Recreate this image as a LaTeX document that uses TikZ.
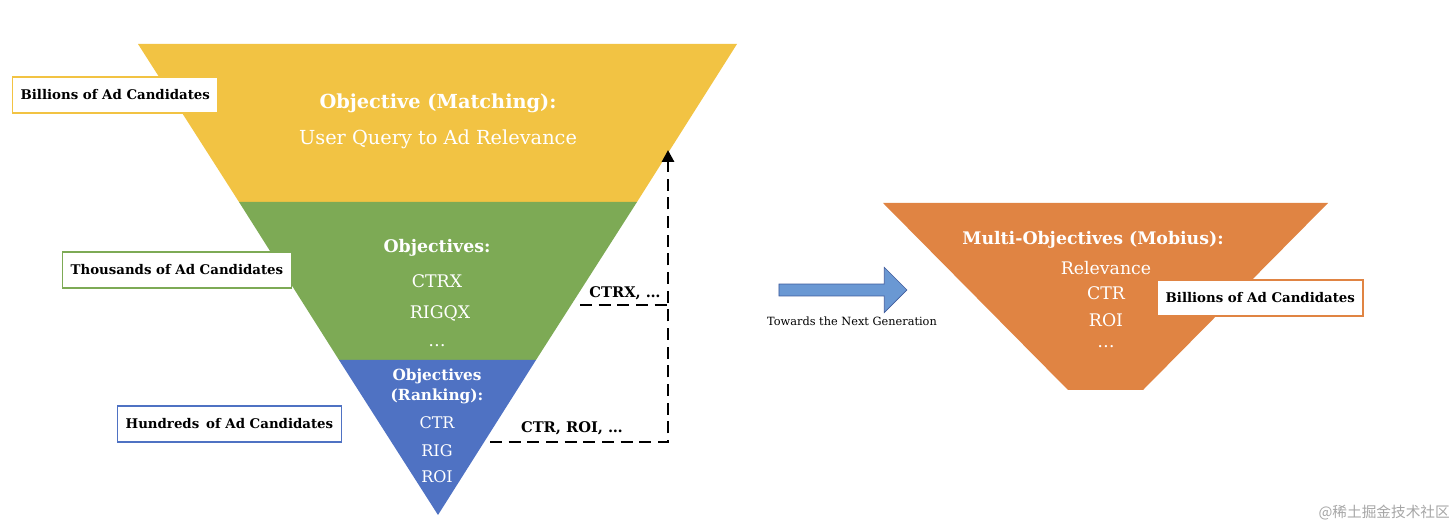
\documentclass[tikz,border=0pt]{standalone}
\usepackage{fontspec}
\setmainfont{DejaVu Serif}
\newfontfamily\cjk{Noto Sans CJK SC}
\usetikzlibrary{arrows.meta,shapes.arrows}
\definecolor{cy}{HTML}{F2C343}
\definecolor{cg}{HTML}{7DAA55}
\definecolor{cb}{HTML}{4F72C3}
\definecolor{co}{HTML}{E08443}
\definecolor{ca}{HTML}{6A98D3}
\tikzset{
 wt/.style={text=white,inner sep=0pt,anchor=center},
 lbl/.style={draw=#1,line width=1pt,fill=white,font=\fontsize{10}{12}\selectfont\bfseries,inner xsep=6pt,anchor=west,minimum height=27pt},
 dsh/.style={line width=2.2pt,dash pattern=on 9pt off 5pt},
}
\begin{document}
\begin{tikzpicture}[x=0.75pt,y=-0.75pt]
\useasboundingbox (0,0) rectangle (1456,530);
\fill[cy] (138,44) -- (737,44) -- (637,202) -- (239,202) -- cycle;
\fill[cg] (239,202) -- (637,202) -- (536,360) -- (339,360) -- cycle;
\fill[cb] (339,360) -- (536,360) -- (438,515) -- cycle;
\fill[co] (883,203) -- (1328,203) -- (1143,390) -- (1068,390) -- cycle;
\node[wt,font=\fontsize{14.5}{16}\selectfont\bfseries] (t1) at (438,103) {Objective (Matching):};
\node[wt,font=\fontsize{14.5}{16}\selectfont] (t2) at (438,139) {User Query to Ad Relevance};
\node[wt,font=\fontsize{13}{15}\selectfont\bfseries] (g1) at (437,248) {Objectives:};
\node[wt,font=\fontsize{13}{15}\selectfont] (g2) at (437,281) {CTRX};
\node[wt,font=\fontsize{13}{15}\selectfont] (g3) at (440,313) {RIGQX};
\node[wt,font=\fontsize{13}{15}\selectfont] (g4) at (437,346) {\dots};
\node[wt,font=\fontsize{11.5}{13}\selectfont\bfseries] (b1) at (437,376) {Objectives};
\node[wt,font=\fontsize{11.5}{13}\selectfont\bfseries] (b2) at (437,396) {(Ranking):};
\node[wt,font=\fontsize{12}{14}\selectfont] (b3) at (437,423) {CTR};
\node[wt,font=\fontsize{12}{14}\selectfont] (b4) at (437,451) {RIG};
\node[wt,font=\fontsize{12}{14}\selectfont] (b5) at (437,477) {ROI};
\node[wt,font=\fontsize{13}{15}\selectfont\bfseries] (o1) at (1093,240) {Multi-Objectives (Mobius):};
\node[wt,font=\fontsize{13}{15}\selectfont] (o2) at (1106,268) {Relevance};
\node[wt,font=\fontsize{13}{15}\selectfont] (o3) at (1106,293) {CTR};
\node[wt,font=\fontsize{13}{15}\selectfont] (o4) at (1106,320) {ROI};
\node[wt,font=\fontsize{13}{15}\selectfont] (o5) at (1106,347) {\dots};
\node[lbl=cy] (l1) at (12,95) {Billions of Ad Candidates};
\node[lbl=cg] (l2) at (62,270) {Thousands of Ad Candidates};
\node[lbl=cb] (l3) at (117,424) {Hundreds\, of Ad Candidates};
\node[lbl=co] (l4) at (1157,298) {Billions of Ad Candidates};
\coordinate (d1) at (490,442);
\coordinate (d2) at (668,442);
\coordinate (d3) at (668,150);
\coordinate (d4) at (580,305);
\coordinate (d5) at (668,305);
\draw[dsh,-{Triangle[length=9pt,width=9pt]}] (d1) -- (d2) -- (d3);
\draw[dsh] (d4) -- (d5);
\node[font=\fontsize{11}{13}\selectfont\bfseries,inner sep=0pt] (c1) at (625,293) {CTRX, \dots};
\node[font=\fontsize{11}{13}\selectfont\bfseries,inner sep=0pt] (c2) at (572,428) {CTR, ROI, \dots};
\node[single arrow,fill=ca,draw=cb!80!black,line width=0.5pt,minimum height=96pt,minimum width=34pt,single arrow head extend=9pt,single arrow tip angle=90,shape border uses incircle,inner sep=2pt] (ar) at (840,290) {};
\node[font=\fontsize{8.5}{10}\selectfont,inner sep=0pt] (at) at (852,321) {Towards the Next Generation};
\node[font=\cjk\fontsize{11}{13}\selectfont,text=black!35,inner sep=0pt,anchor=east] (wm) at (1450,513) {@稀土掘金技术社区};
\end{tikzpicture}
\end{document}
